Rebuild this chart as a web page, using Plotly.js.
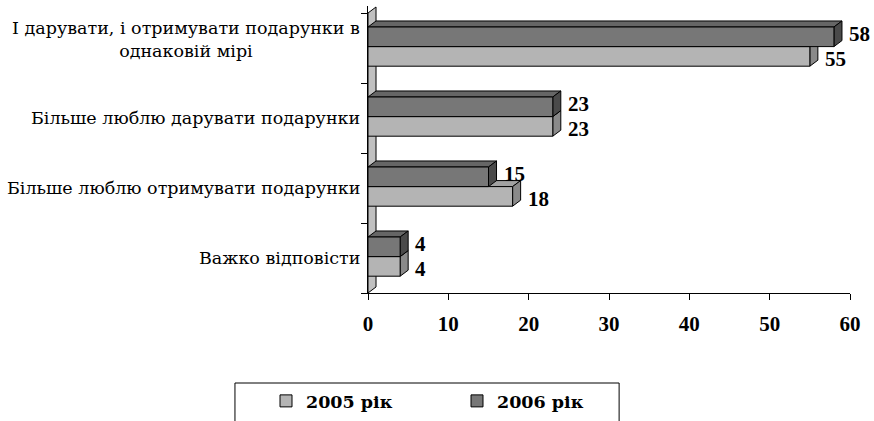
<!DOCTYPE html>
<html>
<head>
<meta charset="utf-8">
<script src="https://cdn.plot.ly/plotly-3.0.1.min.js"></script>
<style>html,body{margin:0;padding:0;background:#fff;overflow:hidden;}#chart{width:874px;height:445px;}</style>
</head>
<body>
<div id="chart"></div>
<script>
// ---- data ----
const categories = [
  "Важко відповісти",
  "Більше люблю отримувати подарунки",
  "Більше люблю дарувати подарунки",
  "І дарувати, і отримувати подарунки в<br>однаковій мірі"
];
const seriesNames = ["2005 рік", "2006 рік"];
const values2005 = [4, 18, 23, 55];
const values2006 = [4, 15, 23, 58];
const xTickValues = [0, 10, 20, 30, 40, 50, 60];

// ---- styling ----
const NUM_FONT = "'Liberation Serif', 'DejaVu Serif', serif";
const TXT_FONT = "'DejaVu Serif', serif";
const frontColors = ["#b4b4b4", "#777777"];
const topColors = ["#a2a2a2", "#666666"];
const sideColors = ["#8a8a8a", "#4a4a4a"];
const barW = 0.28;
const offsets = [-0.26, 0.02];
const dx = 1.0, dy = 0.086;   // 3D depth (data units)
const labelYShift = [-3, 3];

const idx = categories.map((c, i) => i);
const allValues = [values2005, values2006];

const traces = allValues.map((vals, s) => ({
  type: "bar",
  orientation: "h",
  name: seriesNames[s],
  y: idx,
  x: vals,
  width: barW,
  offset: offsets[s],
  marker: {color: frontColors[s], line: {color: "#000", width: 1}},
  hoverinfo: "x+name"
}));

const shapes = [];
// side wall
shapes.push({
  type: "path", xref: "x", yref: "y", layer: "below",
  path: `M0,-0.5 L${dx},${-0.5 + dy} L${dx},${3.5 + dy} L0,3.5 Z`,
  fillcolor: "#c0c0c0", line: {color: "#000", width: 1}
});
// 3D faces
allValues.forEach((vals, s) => {
  vals.forEach((v, i) => {
    const yb = i + offsets[s], yt = yb + barW;
    shapes.push({
      type: "path", xref: "x", yref: "y", layer: "below",
      path: `M0,${yt} L${v},${yt} L${v + dx},${yt + dy} L${dx},${yt + dy} Z`,
      fillcolor: topColors[s], line: {color: "#000", width: 1}
    });
    shapes.push({
      type: "path", xref: "x", yref: "y", layer: "below",
      path: `M${v},${yb} L${v + dx},${yb + dy} L${v + dx},${yt + dy} L${v},${yt} Z`,
      fillcolor: sideColors[s], line: {color: "#000", width: 1}
    });
  });
});
// legend box (bottom edge falls below the visible window, as in the source)
shapes.push({
  type: "rect", xref: "paper", yref: "paper",
  x0: -0.276, x1: 0.521, y0: -0.3136, y1: -0.5,
  line: {color: "#000", width: 1}, fillcolor: "rgba(0,0,0,0)"
});

const annotations = [];
allValues.forEach((vals, s) => {
  vals.forEach((v, i) => {
    annotations.push({
      x: v, y: i + offsets[s] + barW / 2, xref: "x", yref: "y",
      text: String(v), showarrow: false, xanchor: "left", yanchor: "middle",
      xshift: 13, yshift: labelYShift[s],
      font: {family: NUM_FONT, size: 21, color: "#000", weight: "bold"}
    });
  });
});
categories.forEach((c, i) => {
  const multi = c.indexOf("<br>") >= 0;
  annotations.push({
    x: 0, xref: "paper", y: i, yref: "y",
    text: c, showarrow: false, xanchor: "right", yanchor: "middle",
    align: "center", xshift: -6, yshift: multi ? 9 : 0,
    font: {family: TXT_FONT, size: 17.5, color: "#000"}
  });
});

const layout = {
  width: 874, height: 445,
  margin: {l: 368, r: 24, t: 6, b: 152, pad: 0, autoexpand: false},
  paper_bgcolor: "#fff", plot_bgcolor: "#fff",
  font: {family: NUM_FONT},
  barmode: "overlay",
  showlegend: true,
  legend: {
    orientation: "h", x: -0.2116, y: -0.3136, xanchor: "left", yanchor: "top",
    entrywidth: 146, font: {family: TXT_FONT, size: 17.5, color: "#000", weight: "bold"},
    traceorder: "normal", bgcolor: "rgba(0,0,0,0)"
  },
  xaxis: {
    range: [0, 60], tickvals: xTickValues, ticks: "outside", ticklen: 6,
    tickcolor: "#000", showline: true, linecolor: "#000", linewidth: 1,
    showgrid: false, zeroline: false, ticklabelstandoff: 6,
    tickfont: {family: NUM_FONT, size: 21, color: "#000", weight: "bold"}
  },
  yaxis: {
    range: [-0.5, 3.6], tickvals: [-0.5, 0.5, 1.5, 2.5, 3.5],
    showticklabels: false, ticks: "outside", ticklen: 6, tickcolor: "#000",
    showline: true, linecolor: "#000", linewidth: 1,
    showgrid: false, zeroline: false
  },
  shapes: shapes,
  annotations: annotations
};

Plotly.newPlot("chart", traces, layout, {displayModeBar: false, staticPlot: true});
</script>
</body>
</html>
